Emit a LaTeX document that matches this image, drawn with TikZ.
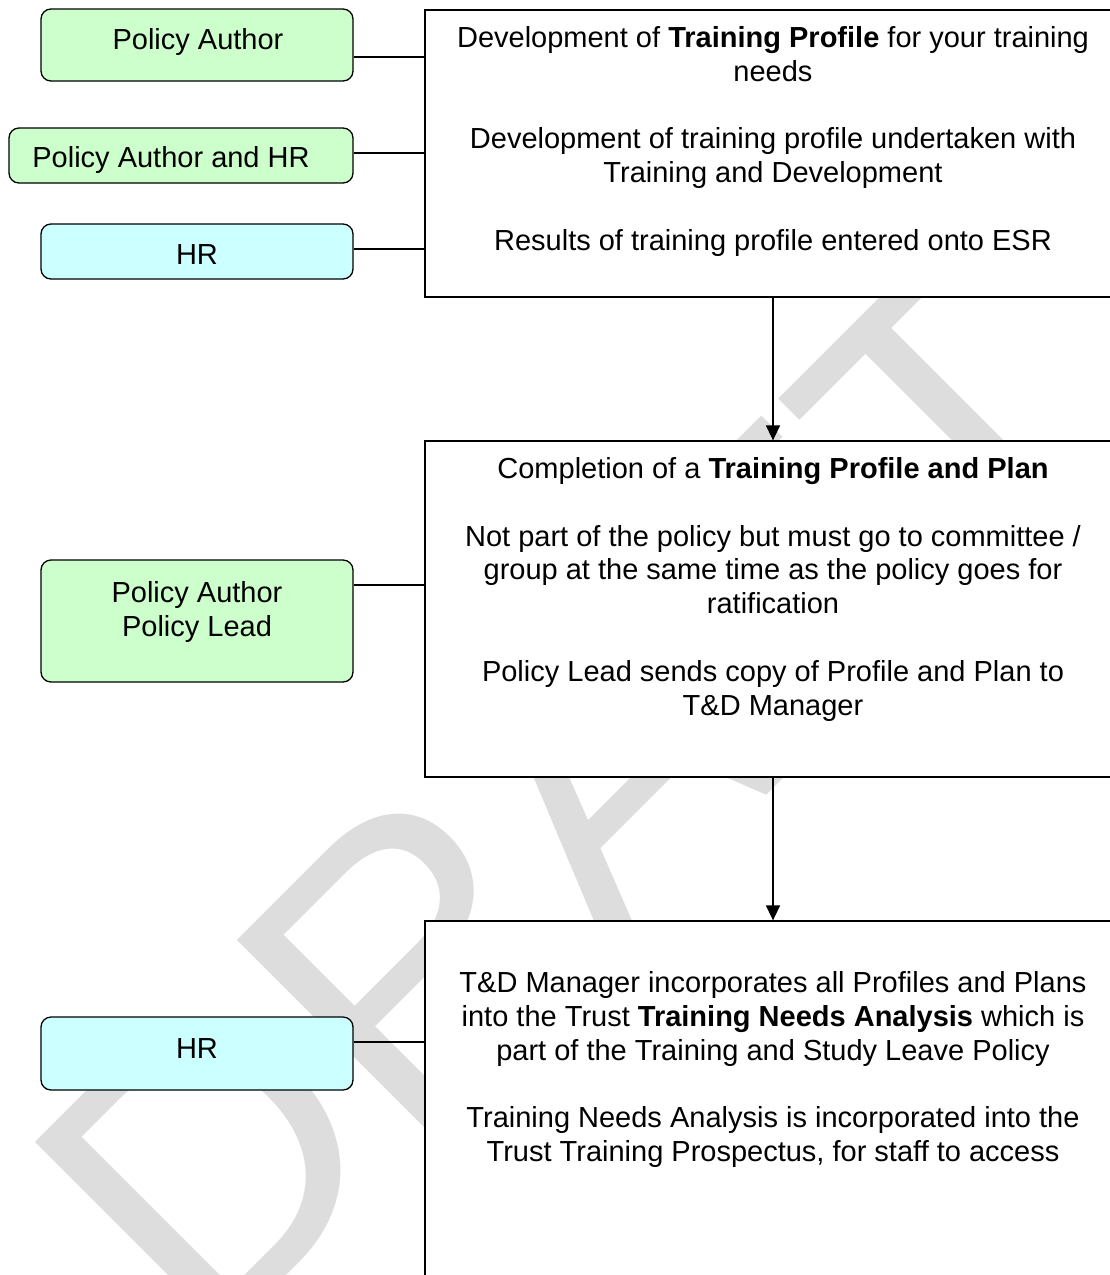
\documentclass[tikz,border=0pt]{standalone}
\usepackage{fontspec}
\setmainfont{Liberation Sans}
\usepackage{tikz}
\usetikzlibrary{arrows.meta,positioning,calc}
\definecolor{authorgreen}{HTML}{CCFFCC}
\definecolor{hrcyan}{HTML}{CCFFFF}
\definecolor{draftgrey}{RGB}{221,221,221}

\begin{document}
\begin{tikzpicture}[x=1pt,y=-1pt,
  role/.style={draw,line width=1.3pt,rounded corners=10pt,minimum width=312pt,inner sep=0pt},
  stage/.style={draw,line width=1.3pt,fill=white,minimum width=696pt,inner sep=0pt},
  txt/.style={font=\fontsize{29}{33.8}\selectfont,align=center,inner sep=0pt},
  link/.style={line width=1.3pt},
  flow/.style={line width=1.6pt,-{Triangle[length=15pt,width=14pt]}}]
\path[use as bounding box,clip] (0,0) rectangle (1110,1275);
% watermark behind everything
\node[rotate=45,text=draftgrey,inner sep=0pt,font=\fontsize{395}{395}\selectfont] (draft) at (574,796) {DRAFT};

% who does it
\node[role,fill=authorgreen,minimum height=72pt] (author) at (197,45) {};
\node[role,fill=authorgreen,minimum width=344pt,minimum height=55pt] (authorhr) at (181,155.5) {};
\node[role,fill=hrcyan,minimum height=55pt] (hrtop) at (197,251.5) {};
\node[role,fill=authorgreen,minimum height=122pt] (lead) at (197,621) {};
\node[role,fill=hrcyan,minimum height=73pt] (hrbottom) at (197,1053.5) {};
\node[txt,anchor=base] (authortext) at (198,49.5) {Policy Author};
\node[txt,anchor=base] (authorhrtext) at (171,167.5) {Policy Author and HR};
\node[txt,anchor=base] (hrtoptext) at (197,264.5) {HR};
\node[txt,anchor=north] (leadtext) at (197,581.5) {Policy Author\\ Policy Lead};
\node[txt,anchor=base] (hrbottomtext) at (197,1058.5) {HR};

% what is done
\node[stage,minimum height=287pt] (stageA) at (773,153.5) {};
\node[stage,minimum height=336pt] (stageB) at (773,609) {};
\node[stage,minimum height=380pt] (stageC) at (773,1111) {};
\node[txt,anchor=north] (textA) at ([yshift=-17pt]stageA.north) {Development of \textbf{Training Profile} for your training\\ needs\\[33.8pt]
  Development of training profile undertaken with\\ Training and Development\\[33.8pt]
  Results of training profile entered onto ESR};
\node[txt,anchor=north] (textB) at ([yshift=-17pt]stageB.north) {Completion of a \textbf{Training Profile and Plan}\\[33.8pt]
  Not part of the policy but must go to committee /\\ group at the same time as the policy goes for\\ ratification\\[33.8pt]
  Policy Lead sends copy of Profile and Plan to\\ T\&D Manager};
\node[txt,anchor=north] (textC) at ([yshift=-51pt]stageC.north) {T\&D Manager incorporates all Profiles and Plans\\ into the Trust \textbf{Training Needs Analysis} which is\\ part of the Training and Study Leave Policy\\[33.8pt]
  Training Needs Analysis is incorporated into the\\ Trust Training Prospectus, for staff to access};

% links
\draw[link] (author.east) ++(0,12) coordinate (l1) -- (l1 -| stageA.west);
\draw[link] (authorhr.east) ++(0,-2.5) coordinate (l2) -- (l2 -| stageA.west);
\draw[link] (hrtop.east) ++(0,-2.5) coordinate (l3) -- (l3 -| stageA.west);
\draw[link] (lead.east) ++(0,-36) coordinate (l4) -- (l4 -| stageB.west);
\draw[link] (hrbottom.east) ++(0,-11.5) coordinate (l5) -- (l5 -| stageC.west);
\draw[flow] (stageA.south) -- (stageB.north);
\draw[flow] (stageB.south) -- (stageC.north);
\end{tikzpicture}
\end{document}
